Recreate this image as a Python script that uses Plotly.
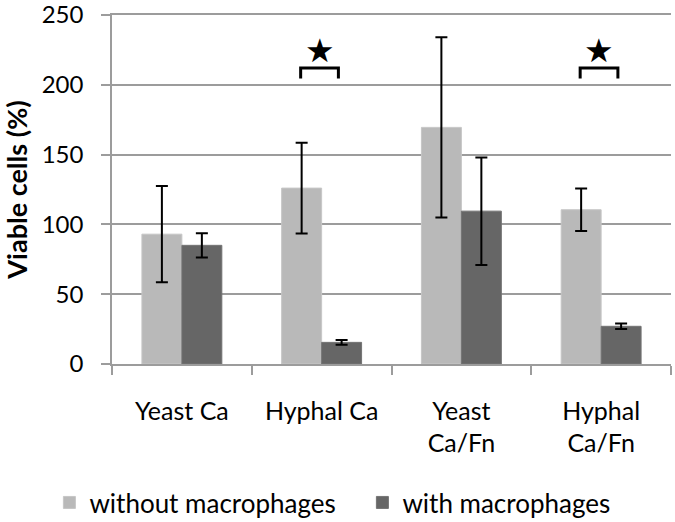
import plotly.graph_objects as go

categories = ["Yeast Ca", "Hyphal Ca", "Yeast<br>Ca/Fn", "Hyphal<br>Ca/Fn"]
without_vals = [93, 126, 169.5, 110.5]
without_err = [34.5, 32.5, 64.5, 15.3]
with_vals = [85, 15.5, 109.5, 27]
with_err = [8.7, 1.7, 38.5, 2.0]
series_names = ["without macrophages", "with macrophages"]
y_ticks = [0, 50, 100, 150, 200, 250]

# significance brackets: category index, bracket top, bracket foot, star height
sig_index = [1, 3]
sig_top = [212, 212]
sig_foot = [204.5, 204.5]
sig_star = [224.5, 224.5]

FONT = "Lato"
LIGHT = "#b9b9b9"
DARK = "#666666"
GRID = "#9c9c9c"

fig = go.Figure()
fig.add_trace(go.Bar(
    x=categories, y=without_vals, name=series_names[0],
    marker=dict(color=LIGHT, line=dict(color="#c6c6c6", width=1)),
    error_y=dict(type="data", array=without_err, visible=True,
                 color="black", thickness=2, width=6),
))
fig.add_trace(go.Bar(
    x=categories, y=with_vals, name=series_names[1],
    marker=dict(color=DARK, line=dict(color="#747474", width=1)),
    error_y=dict(type="data", array=with_err, visible=True,
                 color="black", thickness=2, width=6),
))

for i, top, foot, star in zip(sig_index, sig_top, sig_foot, sig_star):
    x0 = i - 0.15
    x1 = i + 0.12
    fig.add_shape(type="path", xref="x", yref="y",
                  path=f"M {x0},{foot} L {x0},{top} L {x1},{top} L {x1},{foot}",
                  line=dict(color="black", width=3))
    fig.add_annotation(x=(x0 + x1) / 2, y=star, xref="x", yref="y",
                       text="★", showarrow=False,
                       font=dict(family="DejaVu Sans", size=33, color="black"))

fig.update_layout(
    width=675, height=522,
    margin=dict(l=112, r=4, t=15, b=158, autoexpand=False),
    paper_bgcolor="white", plot_bgcolor="white",
    barmode="group", bargap=0.428, bargroupgap=0,
    font=dict(family=FONT, color="black"),
    showlegend=True,
    legend=dict(orientation="h", x=-0.112, xanchor="left", y=-0.397, yanchor="middle",
                font=dict(family=FONT, size=26, color="black"),
                entrywidth=268, bgcolor="rgba(0,0,0,0)"),
)
fig.update_xaxes(
    type="category", automargin=False, showgrid=False, showline=True, mirror=True,
    linecolor=GRID, linewidth=1.5,
    ticks="outside", tickson="boundaries", ticklen=9, tickwidth=1.5, tickcolor=GRID,
    tickfont=dict(family=FONT, size=25, color="black"), ticklabelstandoff=24,
)
fig.update_yaxes(
    range=[0, 250], tickvals=y_ticks, automargin=False,
    showgrid=True, gridcolor=GRID, gridwidth=1.5,
    showline=True, linecolor=GRID, linewidth=1.5, zeroline=False,
    ticks="outside", ticklen=9, tickwidth=1.5, tickcolor=GRID,
    tickfont=dict(family=FONT, size=24, color="black"), ticklabelstandoff=13,
    ticklabeloverflow="allow",
    title=dict(text="<b>Viable cells (%)</b>", font=dict(family=FONT, size=27, color="black"),
               standoff=13),
)

fig.write_html("out.html", config={"displayModeBar": False},
               post_script="document.body.style.margin='0';")
